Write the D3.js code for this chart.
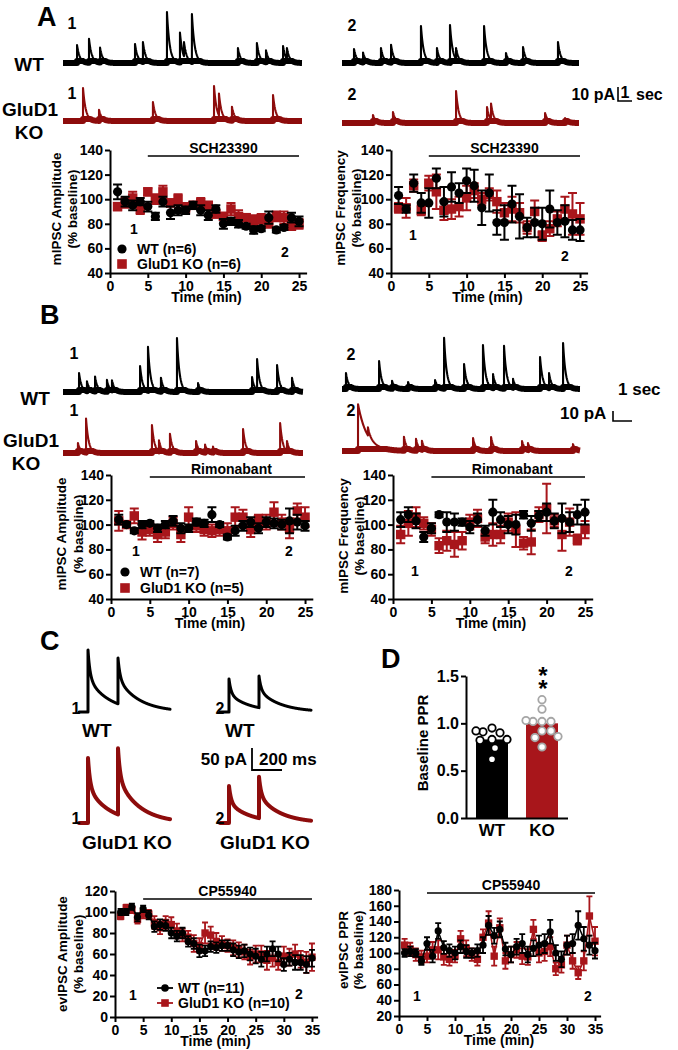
<!DOCTYPE html>
<html><head><meta charset="utf-8">
<script src="https://cdn.jsdelivr.net/npm/d3@7"></script>
<style>html,body{margin:0;padding:0;background:#fff}svg{display:block}</style>
</head><body>
<svg id="fig" width="678" height="1050"></svg>
<script>
// ================= DATA =================
const timeA = [1,2,3,4,5,6,7,8,9,10,11,12,13,14,15,16,17,18,19,20,21,22,23,24,25];
const xTicksA = [0,5,10,15,20,25];
const yTicksA = [40,60,80,100,120,140];
const drugA = [5,25];

// Panel A - mIPSC amplitude (SCH23390)
const ampA_WT     = [106,98,95,98,94,86,98,89,91,91,95,91,87,92,80,82,80,78,75,76,85,75,77,85,82];
const ampA_WT_err = [6,4,4,3,4,3,4,5,4,3,3,4,4,3,4,3,3,2,3,2,5,2,2,4,4];
const ampA_KO     = [94,97,101,92,106,100,106,97,100,93,95,97,95,88,86,92,86,85,83,84,80,86,85,78,80];
const ampA_KO_err = [3,4,5,4,3,4,5,3,4,4,3,4,3,3,3,5,5,3,4,4,3,4,5,3,4];
// Panel A - mIPSC frequency
const freqA_WT     = [103,92,113,97,97,117,98,110,105,115,111,93,105,81,81,96,86,77,81,80,92,81,82,75,75];
const freqA_WT_err = [7,3,7,8,12,8,12,12,8,10,13,14,15,10,14,15,18,8,12,13,15,10,13,8,9];
const freqA_KO     = [93,93,111,91,113,106,91,92,94,101,107,100,104,98,89,92,89,77,90,70,76,84,92,88,84];
const freqA_KO_err = [4,8,5,4,6,14,8,8,8,10,6,5,5,9,8,10,8,5,9,4,6,6,10,17,13];

// Panel B - mIPSC amplitude (Rimonabant)
const ampB_WT     = [104,100,95,100,101,97,100,103,97,97,102,101,108,100,90,95,99,102,97,102,101,100,103,102,99];
const ampB_WT_err = [4,2,2,3,2,3,3,4,4,3,3,3,6,2,2,4,4,4,4,4,4,4,10,6,4];
const ampB_KO     = [103,100,107,94,96,92,94,101,92,106,99,96,95,96,95,106,106,96,104,102,110,102,97,111,106];
const ampB_KO_err = [8,2,6,6,5,6,5,5,6,8,5,5,5,5,6,8,6,6,4,6,8,6,8,6,8];
// Panel B - mIPSC frequency
const freqB_WT     = [104,108,103,90,97,108,102,102,102,98,104,95,110,104,100,100,108,101,107,110,103,105,102,108,110];
const freqB_WT_err = [6,6,6,4,4,2,8,7,3,5,5,4,10,6,7,8,3,6,4,7,6,12,8,8,10];
const freqB_KO     = [92,101,106,101,96,83,87,84,87,102,105,90,92,92,102,96,85,86,108,113,103,92,102,88,96];
const freqB_KO_err = [7,10,8,5,5,6,8,10,7,6,7,5,9,7,7,14,5,10,6,20,5,13,11,4,7];

// Panel C - evIPSC (CP55940)
const timeC = [1,2,3,4,5,6,7,8,9,10,11,12,13,14,15,16,17,18,19,20,21,22,23,24,25,26,27,28,29,30,31,32,33,34,35];
const xTicksC = [0,5,10,15,20,25,30,35];
const yTicksCAmp = [0,20,40,60,80,100,120];
const yTicksCPPR = [20,40,60,80,100,120,140,160,180];
const drugC = [5,35];
const evAmp_WT     = [100,100,105,95,103,97,86,88,87,80,77,80,72,70,63,63,67,66,68,68,64,62,63,60,58,55,60,65,60,50,55,52,52,50,56];
const evAmp_WT_err = [3,3,3,4,3,4,5,5,5,5,5,5,5,5,6,5,5,5,5,5,6,6,6,6,7,7,7,7,7,6,6,7,7,8,8];
const evAmp_KO     = [96,104,102,93,98,98,90,85,90,88,82,78,76,70,68,80,78,72,70,68,66,64,62,57,60,60,54,56,52,58,57,60,55,52,57];
const evAmp_KO_err = [3,3,3,4,4,4,6,6,6,7,7,6,6,8,7,10,8,8,7,6,7,7,7,7,8,8,9,8,7,9,8,9,8,10,13];
const evPPR_WT     = [100,102,100,90,112,96,128,107,103,100,108,102,100,103,110,135,122,130,105,98,108,112,98,106,110,112,127,100,92,110,112,135,118,110,103];
const evPPR_WT_err = [5,6,5,5,8,8,10,8,8,8,8,8,6,8,10,12,10,10,8,10,10,12,10,10,12,12,15,10,10,12,12,18,15,12,10];
const evPPR_KO     = [110,105,98,95,96,104,104,95,92,96,118,106,98,92,120,138,96,132,90,98,104,96,95,130,100,102,108,80,85,110,90,75,90,147,115];
const evPPR_KO_err = [8,8,8,8,8,10,12,10,8,8,10,10,8,8,10,15,12,12,10,10,10,10,10,12,12,12,12,8,10,12,10,8,12,25,18];

// Panel D - baseline PPR
const pprGroups = ["WT","KO"];
const pprMeans  = [0.83, 1.00];
const pprWTdots = [0.95,0.90,0.91,0.92,0.83,0.82,0.83,0.74,0.62];
const pprKOdots = [1.25,1.15,1.02,1.02,1.02,1.03,0.92,0.92,0.85,0.86,0.75];
const yTicksD = [0,0.5,1.0,1.5];

// Example mIPSC traces: [time (s), amplitude (pA), optional decay tau (s)]
const trA1_WT = [[0.94,13.8],[1.74,18.5],[2.48,11.5],[4.82,14.6],[5.35,15.4],[6.96,39.2],[7.83,23.1],[8.1,10.8],[8.63,36.9],[11.71,11.5],[12.98,15.4],[13.59,9.2],[14.73,13.1],[14.99,8.5]];
const trA1_KO = [[1.34,25.4],[2.41,8.5],[6.02,14.6],[10.11,26.9],[10.44,16.9],[11.31,10.8],[14.06,20]];
const trA2_WT = [[0.81,10.8],[1.42,7.7],[2.63,11.5],[3.31,13.8],[5.33,28.5],[6.41,11.5],[7.29,29.2],[7.7,8.5],[9.59,28.5],[11.07,7.7],[12.22,12.3],[14.58,16.2]];
const trA2_KO = [[2.09,6.2],[3.44,8.5],[7.7,24.6],[9.79,12.3],[10.06,12.3],[13.71,7.7],[15.06,3.8]];
const trB1_WT = [[0.89,21.1],[1.33,11.1],[1.78,16.7],[2.44,13.3],[2.72,11.1],[4.28,28.9],[4.72,48.9],[5.44,15.6],[6.33,60],[7.5,10],[10.5,16.7],[10.78,34.4],[11.89,30],[12.72,15.6]];
const trB1_KO = [[0.83,11.1],[1.28,37.8],[4.94,31.1],[5.33,12.2],[5.94,21.1],[7.39,13.3],[7.89,8.9],[8.33,6.7],[10,26.7],[12.06,33.3],[12.44,11.1]];
const trB2_WT = [[0.22,17.8],[2.06,31.1],[2.78,8.9],[3.67,7.8],[5.17,10],[5.67,56.7],[6.78,27.8],[7.83,48.9],[8.39,15.6],[9,47.8],[9.5,10],[11,35.6],[11.5,16.7],[12.28,51.1]];
const trB2_KO = [[0.89,52,0.5],[1.44,8.9],[3.44,15.6],[4.11,13.3],[4.44,10],[7.28,14.4],[8.28,15.6],[10,11.1],[10.33,7.8],[12.83,7.8]];

// Example evoked IPSC pairs: [peak 1, peak 2] (pA)
const evWT1 = [141,123];
const evWT2 = [75,82];
const evKO1 = [148,170];
const evKO2 = [84,105];

// ================= DRAWING =================
const BLACK = "#000", RED = "#a8161b", TRED = "#8d0c0c";
const FONT = '"Liberation Sans", Arial, Helvetica, sans-serif';
const svg = d3.select("#fig");

function txt(x, y, s, size, anchor, fill) {
  return svg.append("text").attr("x", x).attr("y", y).attr("font-size", size)
    .attr("font-weight", "bold").attr("font-family", FONT)
    .attr("text-anchor", anchor || "start").attr("fill", fill || BLACK).text(s);
}
function vtxt(cx, cy, s, size) {
  return svg.append("text").attr("transform", `translate(${cx},${cy}) rotate(-90)`)
    .attr("text-anchor", "middle").attr("dy", "0.35em").attr("font-size", size)
    .attr("font-weight", "bold").attr("font-family", FONT).text(s);
}
function styleAxis(ax, fs) {
  ax.attr("font-family", FONT).attr("font-size", fs).attr("font-weight", "bold");
  ax.select(".domain").attr("stroke", BLACK).attr("stroke-width", 2);
  ax.selectAll(".tick line").attr("stroke", BLACK).attr("stroke-width", 2);
  ax.selectAll(".tick text").attr("fill", BLACK);
}
function line(x1, y1, x2, y2, w, c) {
  svg.append("line").attr("x1", x1).attr("y1", y1).attr("x2", x2).attr("y2", y2)
    .attr("stroke", c || BLACK).attr("stroke-width", w || 2);
}

function tcChart(c) {
  const g = svg.append("g");
  const x = d3.scaleLinear(c.xd, c.xr), y = d3.scaleLinear(c.yd, c.yr);
  const ay = g.append("g").attr("transform", `translate(${c.xr[0]},0)`)
    .call(d3.axisLeft(y).tickValues(c.yt).tickSize(5).tickSizeOuter(0).tickPadding(2));
  const ax = g.append("g").attr("transform", `translate(0,${c.yr[0]})`)
    .call(d3.axisBottom(x).tickValues(c.xt).tickSize(5).tickSizeOuter(0).tickPadding(3));
  styleAxis(ay, c.fs); styleAxis(ax, c.fs);
  // drug bar
  g.append("line").attr("x1", x(c.drug[0])).attr("x2", x(c.drug[1]))
    .attr("y1", c.drugY).attr("y2", c.drugY).attr("stroke", BLACK).attr("stroke-width", 1.6);
  g.append("text").attr("x", (x(c.drug[0]) + x(c.drug[1])) / 2 + (c.drugDx || 0)).attr("y", c.drugY - 3)
    .attr("text-anchor", "middle").attr("font-size", c.fs).attr("font-weight", "bold")
    .attr("font-family", FONT).text(c.drugLabel);
  // x title
  g.append("text").attr("x", (c.xr[0] + x(c.xt[c.xt.length - 1])) / 2 + 2).attr("y", c.yr[0] + 29)
    .attr("text-anchor", "middle").attr("font-size", c.fs).attr("font-weight", "bold")
    .attr("font-family", FONT).text("Time (min)");
  // series
  c.series.forEach(s => {
    const sg = g.append("g");
    const pts = c.t.map((t, i) => ({ t, v: s.v[i], e: s.e[i] }));
    if (c.lines) {
      sg.append("path").datum(pts).attr("fill", "none").attr("stroke", s.color).attr("stroke-width", 1.5)
        .attr("d", d3.line().x(d => x(d.t)).y(d => y(d.v)));
    }
    const cw = c.cap;
    sg.selectAll(".eb").data(pts).join("path").attr("fill", "none").attr("stroke", s.color)
      .attr("stroke-width", c.ebw)
      .attr("d", d => `M${x(d.t)},${y(d.v - d.e)}V${y(d.v + d.e)}M${x(d.t) - cw / 2},${y(d.v + d.e)}H${x(d.t) + cw / 2}M${x(d.t) - cw / 2},${y(d.v - d.e)}H${x(d.t) + cw / 2}`);
    if (s.shape === "circle") {
      sg.selectAll("circle").data(pts).join("circle").attr("cx", d => x(d.t)).attr("cy", d => y(d.v))
        .attr("r", c.r).attr("fill", s.color);
    } else {
      const sq = c.r * 2.05;
      sg.selectAll("rect").data(pts).join("rect").attr("x", d => x(d.t) - sq / 2).attr("y", d => y(d.v) - sq / 2)
        .attr("width", sq).attr("height", sq).attr("fill", s.color);
    }
  });
  return { x, y };
}

function legendItem(cx, cy, shape, color, label, r, withLine, fs) {
  if (withLine) line(cx - 8, cy, cx + 8, cy, 1.8, color);
  if (shape === "circle") svg.append("circle").attr("cx", cx).attr("cy", cy).attr("r", r).attr("fill", color);
  else svg.append("rect").attr("x", cx - r).attr("y", cy - r).attr("width", 2 * r).attr("height", 2 * r).attr("fill", color);
  txt(cx + (withLine ? 13 : 15), cy + 5, label, fs);
}

// ---- spontaneous traces ----
function spikeTrace(spikes, o) {
  const xs = d3.scaleLinear([0, o.dur], [o.x0, o.x1]);
  const ys = d3.scaleLinear([0, 10], [o.base, o.base - 10 * o.ppa]);
  const N = Math.round((o.x1 - o.x0) * 3);
  const ts = d3.range(N + 1).map(i => i * o.dur / N);
  spikes.forEach(s => { ts.push(s[0] - 1e-4); ts.push(s[0]); });
  ts.sort(d3.ascending);
  const val = t => d3.sum(spikes, s => t >= s[0] ? s[1] * Math.exp(-(t - s[0]) / (s[2] || o.tau)) : 0);
  const pts = ts.map(t => [t, val(t)]);
  svg.append("path").datum(pts).attr("fill", "none").attr("stroke", o.color).attr("stroke-width", o.band)
    .attr("stroke-linejoin", "round")
    .attr("d", d3.line().x(d => xs(d[0])).y(d => ys(Math.min(d[1], o.cap))));
  svg.append("path").datum(pts).attr("fill", "none").attr("stroke", o.color).attr("stroke-width", 2.1)
    .attr("stroke-linejoin", "round")
    .attr("d", d3.line().x(d => xs(d[0])).y(d => ys(d[1])));
}

// ---- evoked traces ----
function evokedTrace(peaks, o) {
  const xs = d3.scaleLinear([0, 200], [o.stim, o.stim + 30]);   // 200 ms = 30 px
  const ys = d3.scaleLinear([0, 50], [o.base, o.base - 22]);      // 50 pA = 22 px
  const kern = t => 0.45 * Math.exp(-t / 14) + 0.55 * Math.exp(-t / 140);
  const a1 = peaks[0], a2 = peaks[1] - a1 * kern(200);
  const val = t => (t >= 0 ? a1 * kern(t) : 0) + (t >= 200 ? a2 * kern(t - 200) : 0);
  const ts = d3.range(-60, 548, 1).concat([-0.01, 199.99]).sort(d3.ascending);
  svg.append("path").datum(ts).attr("fill", "none").attr("stroke", o.color).attr("stroke-width", o.w)
    .attr("stroke-linejoin", "round").attr("stroke-linecap", "round")
    .attr("d", d3.line().x(t => xs(t)).y(t => ys(val(t))));
}

// ================= PANEL A =================
txt(37, 26, "A", 27);
txt(72, 29, "1", 16, "middle"); txt(72, 99, "1", 16, "middle");
txt(352, 31, "2", 16, "middle"); txt(352, 100, "2", 16, "middle");
txt(29, 71, "WT", 19, "middle"); txt(30, 116, "GluD1", 19, "middle"); txt(29, 139, "KO", 19, "middle");
spikeTrace(trA1_WT, { x0: 63, x1: 302, dur: 16, base: 63, ppa: 1.3, tau: 0.18, color: BLACK, band: 6, cap: 1.6 });
spikeTrace(trA1_KO, { x0: 63, x1: 302, dur: 16, base: 121, ppa: 1.3, tau: 0.18, color: TRED, band: 6, cap: 1.6 });
spikeTrace(trA2_WT, { x0: 342, x1: 579, dur: 16, base: 63, ppa: 1.3, tau: 0.18, color: BLACK, band: 6, cap: 1.6 });
spikeTrace(trA2_KO, { x0: 342, x1: 579, dur: 16, base: 123, ppa: 1.3, tau: 0.18, color: TRED, band: 6, cap: 1.6 });
// scale bar A
txt(615, 100, "10 pA", 16, "end");
svg.append("path").attr("d", "M618,87V101H632").attr("fill", "none").attr("stroke", BLACK).attr("stroke-width", 1.6);
txt(625, 98, "1", 16, "middle");
txt(636, 100, "sec", 16);

tcChart({ t: timeA, xd: [0, 26], xr: [110, 306.6], yd: [40, 140], yr: [273, 150], xt: xTicksA, yt: yTicksA,
  drug: drugA, drugY: 156, drugLabel: "SCH23390", fs: 14, r: 4.6, cap: 9, ebw: 2, lines: false,
  series: [{ v: ampA_KO, e: ampA_KO_err, color: RED, shape: "square" }, { v: ampA_WT, e: ampA_WT_err, color: BLACK, shape: "circle" }] });
vtxt(56, 209, "mIPSC Amplitude", 13.5); vtxt(72, 209, "(% baseline)", 13.5);
txt(134, 234, "1", 14, "middle"); txt(285, 257, "2", 14, "middle");
legendItem(122, 249, "circle", BLACK, "WT (n=6)", 4.6, false, 14);
legendItem(122, 264, "square", RED, "GluD1 KO (n=6)", 4.8, false, 14);

tcChart({ t: timeA, xd: [0, 26], xr: [391, 587.6], yd: [40, 140], yr: [273, 150], xt: xTicksA, yt: yTicksA,
  drug: drugA, drugY: 156, drugLabel: "SCH23390", fs: 14, r: 4.6, cap: 9, ebw: 2, lines: false,
  series: [{ v: freqA_KO, e: freqA_KO_err, color: RED, shape: "square" }, { v: freqA_WT, e: freqA_WT_err, color: BLACK, shape: "circle" }] });
vtxt(340, 208, "mIPSC Frequency", 13.5); vtxt(356, 208, "(% baseline)", 13.5);
txt(413, 240, "1", 14, "middle"); txt(565, 261, "2", 14, "middle");

// ================= PANEL B =================
txt(40, 324, "B", 27);
txt(74, 359, "1", 16, "middle"); txt(74, 416, "1", 16, "middle");
txt(351, 360, "2", 16, "middle"); txt(351, 416, "2", 16, "middle");
txt(35, 405, "WT", 19, "middle"); txt(31, 447, "GluD1", 19, "middle"); txt(26, 470, "KO", 19, "middle");
spikeTrace(trB1_WT, { x0: 63, x1: 303, dur: 13.33, base: 392, ppa: 0.9, tau: 0.14, color: BLACK, band: 6, cap: 2.2 });
spikeTrace(trB1_KO, { x0: 63, x1: 303, dur: 13.33, base: 453, ppa: 0.9, tau: 0.14, color: TRED, band: 6, cap: 2.2 });
spikeTrace(trB2_WT, { x0: 342, x1: 580, dur: 13.22, base: 389, ppa: 0.9, tau: 0.14, color: BLACK, band: 6, cap: 2.2 });
spikeTrace(trB2_KO, { x0: 342, x1: 580, dur: 13.22, base: 451, ppa: 0.9, tau: 0.14, color: TRED, band: 6, cap: 2.2 });
txt(618, 395, "1 sec", 17);
txt(560, 419, "10 pA", 17);
svg.append("path").attr("d", "M613,411V421H632").attr("fill", "none").attr("stroke", BLACK).attr("stroke-width", 1.6);

tcChart({ t: timeA, xd: [0, 26], xr: [111, 312.8], yd: [40, 140], yr: [599, 475], xt: xTicksA, yt: yTicksA,
  drug: drugA, drugY: 477, drugDx: 4, drugLabel: "Rimonabant", fs: 14, r: 4.6, cap: 9, ebw: 2, lines: false,
  series: [{ v: ampB_KO, e: ampB_KO_err, color: RED, shape: "square" }, { v: ampB_WT, e: ampB_WT_err, color: BLACK, shape: "circle" }] });
vtxt(61, 534, "mIPSC Amplitude", 13.5); vtxt(78, 534, "(% baseline)", 13.5);
txt(136, 556, "1", 14, "middle"); txt(289, 556, "2", 14, "middle");
legendItem(125, 572, "circle", BLACK, "WT (n=7)", 4.6, false, 14);
legendItem(125, 588, "square", RED, "GluD1 KO (n=5)", 4.8, false, 14);

tcChart({ t: timeA, xd: [0, 26], xr: [393, 592.7], yd: [40, 140], yr: [599, 475], xt: xTicksA, yt: yTicksA,
  drug: drugA, drugY: 477, drugDx: 4, drugLabel: "Rimonabant", fs: 14, r: 4.6, cap: 9, ebw: 2, lines: false,
  series: [{ v: freqB_KO, e: freqB_KO_err, color: RED, shape: "square" }, { v: freqB_WT, e: freqB_WT_err, color: BLACK, shape: "circle" }] });
vtxt(343, 536, "mIPSC Frequency", 13.5); vtxt(359, 536, "(% baseline)", 13.5);
txt(415, 576, "1", 14, "middle"); txt(569, 576, "2", 14, "middle");

// ================= PANEL C =================
txt(40, 650, "C", 27);
evokedTrace(evWT1, { stim: 88, base: 712, color: BLACK, w: 3 });
evokedTrace(evWT2, { stim: 229, base: 712, color: BLACK, w: 3 });
evokedTrace(evKO1, { stim: 88, base: 823, color: TRED, w: 4 });
evokedTrace(evKO2, { stim: 229, base: 823, color: TRED, w: 4 });
txt(76, 714, "1", 16, "middle"); txt(220, 714, "2", 16, "middle");
txt(76, 824, "1", 16, "middle"); txt(220, 824, "2", 16, "middle");
txt(82, 737, "WT", 19); txt(225, 737, "WT", 19);
txt(82, 849, "GluD1 KO", 19); txt(220, 849, "GluD1 KO", 19);
txt(247, 765, "50 pA", 17, "end");
svg.append("path").attr("d", "M252,748V770H282").attr("fill", "none").attr("stroke", BLACK).attr("stroke-width", 1.8);
txt(259, 765, "200 ms", 17);

// ================= PANEL D =================
txt(381, 668, "D", 27);
{
  const xb = d3.scaleBand(pprGroups, [466, 568]).paddingInner(0.36).paddingOuter(0.2);
  const y = d3.scaleLinear([0, 1.5], [818, 676]);
  svg.selectAll(".bar").data(pprGroups).join("rect").attr("x", d => xb(d)).attr("width", xb.bandwidth())
    .attr("y", (d, i) => y(pprMeans[i])).attr("height", (d, i) => 818 - y(pprMeans[i]))
    .attr("fill", (d, i) => i ? RED : BLACK);
  const ay = svg.append("g").attr("transform", "translate(466,0)")
    .call(d3.axisLeft(y).tickValues(yTicksD).tickFormat(d3.format(".1f")).tickSize(5).tickSizeOuter(0).tickPadding(2));
  styleAxis(ay, 16);
  const ax = svg.append("g").attr("transform", "translate(0,818)")
    .call(d3.axisBottom(xb).tickSize(0).tickSizeOuter(0).tickPadding(6));
  styleAxis(ax, 17);
  ax.select(".domain").attr("d", "M466,0.5H568");
  vtxt(423, 743, "Baseline PPR", 15);
  const r = 3.7;
  function swarm(vals, cx, stroke) {
    const placed = [];
    const offs = [0];
    for (let i = 1; i <= 16; i++) offs.push(i, -i);
    vals.forEach(v => {
      const yy = y(v);
      let xx = cx;
      for (const o of offs) { xx = cx + o; if (placed.every(p => Math.hypot(p[0] - xx, p[1] - yy) >= 2 * r + 1.6)) break; }
      placed.push([xx, yy]);
    });
    svg.append("g").selectAll("circle").data(placed).join("circle").attr("cx", d => d[0]).attr("cy", d => d[1])
      .attr("r", r).attr("fill", "#fff").attr("stroke", stroke).attr("stroke-width", 1.8);
  }
  swarm(pprWTdots, xb("WT") + xb.bandwidth() / 2, BLACK);
  swarm(pprKOdots, xb("KO") + xb.bandwidth() / 2, "#a6a6a6");
  // significance stars (stacked) as one text element
  const st = svg.append("text").attr("font-size", 24).attr("font-weight", "bold").attr("font-family", FONT)
    .attr("text-anchor", "middle");
  st.append("tspan").attr("x", 543).attr("y", 684).text("*");
  st.append("tspan").attr("x", 543).attr("y", 697).text("*");
}

// ================= PANEL C time courses =================
tcChart({ t: timeC, xd: [0, 36], xr: [115, 317.6], yd: [0, 120], yr: [1017, 891], xt: xTicksC, yt: yTicksCAmp,
  drug: drugC, drugY: 899, drugLabel: "CP55940", fs: 14, r: 3.6, cap: 6, ebw: 1.8, lines: true,
  series: [{ v: evAmp_KO, e: evAmp_KO_err, color: RED, shape: "square" }, { v: evAmp_WT, e: evAmp_WT_err, color: BLACK, shape: "circle" }] });
vtxt(62, 954, "evIPSC Amplitude", 13.5); vtxt(78, 954, "(% baseline)", 13.5);
txt(133, 1000, "1", 14, "middle"); txt(299, 999, "2", 14, "middle");
legendItem(165, 988, "circle", BLACK, "WT (n=11)", 3.8, true, 14);
legendItem(165, 1003, "square", RED, "GluD1 KO (n=10)", 3.8, true, 14);

tcChart({ t: timeC, xd: [0, 36], xr: [399, 600.6], yd: [20, 180], yr: [1016, 890], xt: xTicksC, yt: yTicksCPPR,
  drug: drugC, drugY: 893, drugLabel: "CP55940", fs: 14, r: 3.6, cap: 6, ebw: 1.8, lines: true,
  series: [{ v: evPPR_KO, e: evPPR_KO_err, color: RED, shape: "square" }, { v: evPPR_WT, e: evPPR_WT_err, color: BLACK, shape: "circle" }] });
vtxt(343, 950, "evIPSC PPR", 13.5); vtxt(358, 950, "(% baseline)", 13.5);
txt(417, 1001, "1", 14, "middle"); txt(588, 1001, "2", 14, "middle");
</script>
</body></html>
